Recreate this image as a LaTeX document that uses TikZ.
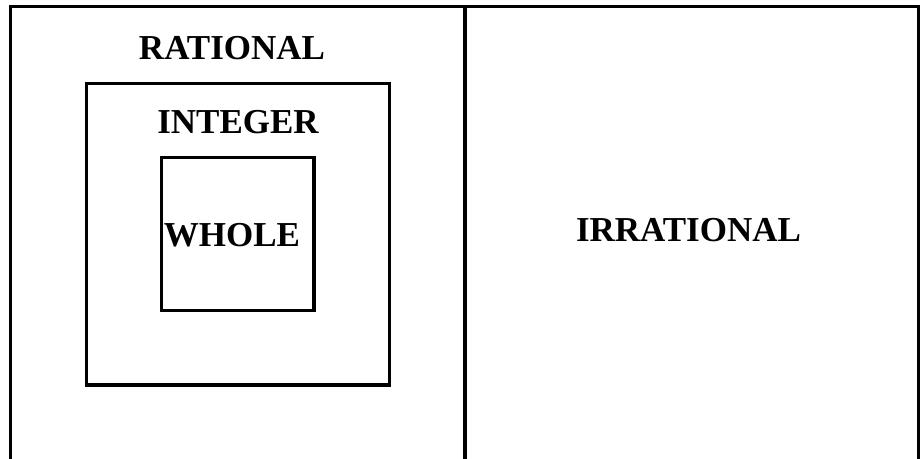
\documentclass[tikz,border=0pt]{standalone}
\usepackage{fontspec}
\setmainfont{Liberation Serif}
\begin{document}
\begin{tikzpicture}[x=1pt,y=-1pt,
  frame/.style={draw=black,line width=3.2pt},
  boxnode/.style={frame,inner sep=0pt,outer sep=0pt,anchor=center},
  lbl/.style={font=\fontsize{35}{38}\selectfont\bfseries,inner sep=0pt,anchor=center}]
\useasboundingbox (0,0) rectangle (924,458);
% outer frame (open at bottom)
\coordinate (bl) at (10.5,462);
\coordinate (tl) at (10.5,6.5);
\coordinate (tr) at (918.5,6.5);
\coordinate (br) at (918.5,462);
\coordinate (dt) at (465,6.5);
\coordinate (db) at (465,462);
\draw[frame,line join=miter] (bl) -- (tl) -- (tr) -- (br);
\draw[frame] (dt) -- (db);
% integer box
\node[boxnode,minimum width=303pt,minimum height=301.5pt] (intbox) at (238,234.25) {};
% whole box
\node[boxnode,minimum width=152.5pt,minimum height=153pt] (wholebox) at (237.75,234) {};
% labels
\node[lbl] (rational) at (232,48.5) {RATIONAL};
\node[lbl] (integer) at (238,122) {INTEGER};
\node[lbl] (whole) at (232,235.5) {WHOLE};
\node[lbl] (irrational) at (688.5,230) {IRRATIONAL};
\end{tikzpicture}
\end{document}
